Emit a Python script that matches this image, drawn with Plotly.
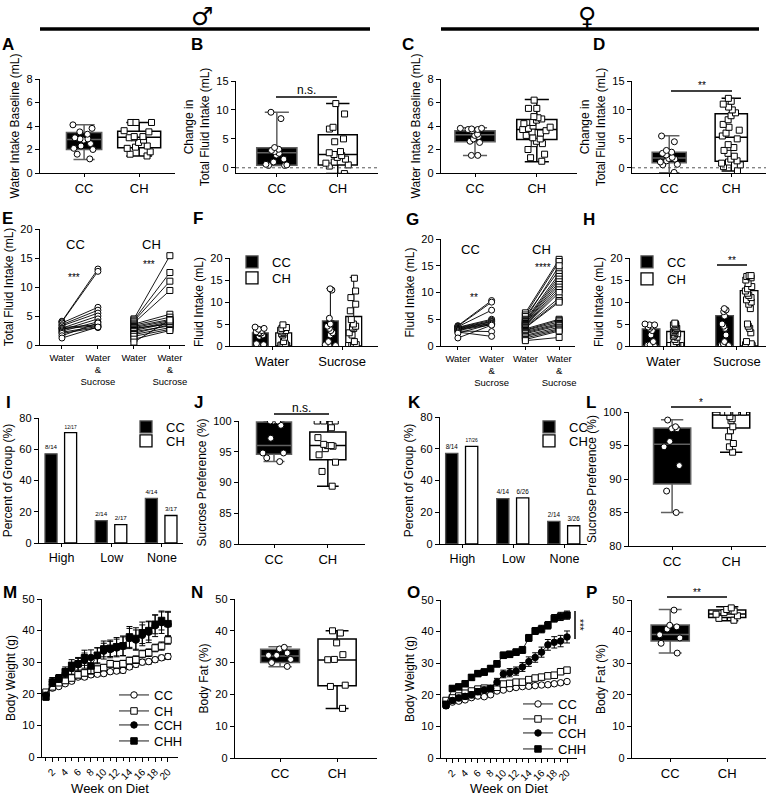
import plotly.graph_objects as go

W, H = 768, 796
FONT = "Liberation Sans, Arial, sans-serif"

# ------------------------------------------------------------------ data
groups = ["CC", "CH"]

# A: water intake baseline, male (box stats: lo, q1, median, q3, hi)
a_cc_pts = [4.1, 3.8, 3.5, 3.3, 3.0, 2.9, 2.9, 2.8, 2.5, 2.3, 2.1, 2.0, 1.6, 1.2]
a_ch_pts = [4.3, 4.3, 4.3, 3.6, 3.5, 3.1, 3.1, 3.0, 3.0, 2.8, 2.6, 2.3, 2.2, 2.1, 1.8, 1.6, 1.45]
a_cc_box = [1.15, 2.0, 2.85, 3.45, 4.1]
a_ch_box = [1.45, 2.15, 3.05, 3.55, 4.3]

# B: change in total fluid intake, male
b_cc_pts = [9.6, 8.5, 3.5, 3.2, 3.0, 2.8, 2.5, 2.2, 1.5, 1.0, 0.6, 0.5, 0.4, 0.4]
b_ch_pts = [11.1, 9.3, 7.0, 6.7, 5.0, 4.5, 2.8, 2.6, 2.3, 2.1, 1.8, 1.5, 1.0, 0.8, 0.5, 0.3, -1.0]
b_cc_box = [0.4, 0.45, 2.6, 3.45, 9.6]
b_ch_box = [-1.0, 0.5, 2.3, 5.7, 11.1]

# C: water intake baseline, female
c_cc_pts = [3.8, 3.8, 3.75, 3.7, 3.7, 3.6, 3.3, 3.2, 3.1, 2.9, 2.7, 2.6, 1.5, 1.5]
c_ch_pts = [6.2, 5.5, 5.5, 4.8, 4.7, 4.6, 4.5, 4.3, 4.2, 4.0, 3.9, 3.8, 3.7, 3.6, 3.5, 3.4,
            3.2, 3.0, 2.9, 2.7, 2.5, 2.5, 2.0, 1.6, 1.3, 1.0]
c_cc_box = [1.5, 2.65, 3.25, 3.6, 3.85]
c_ch_box = [0.95, 2.85, 3.7, 4.55, 6.25]

# D: change in total fluid intake, female
d_cc_pts = [5.5, 4.5, 3.0, 2.7, 2.5, 2.2, 1.8, 1.6, 1.5, 1.2, 1.0, 0.6, 0.5, -0.8]
d_ch_pts = [12.0, 11.5, 11.0, 10.5, 10.0, 9.5, 9.0, 8.3, 7.5, 7.0, 6.5, 6.0, 5.5, 5.0, 4.0,
            3.5, 3.0, 2.5, 2.0, 1.5, 1.2, 1.0, 0.8, 0.5, 0.2, -0.5]
d_cc_box = [-0.85, 0.85, 1.7, 2.7, 5.55]
d_ch_box = [-0.55, 1.15, 5.3, 9.35, 12.0]

# E: paired total fluid intake, male
e_cats = ["CC Water", "CC Water & Sucrose", "CH Water", "CH Water & Sucrose"]
e_ticks = ["Water", "Water<br>&<br>Sucrose", "Water", "Water<br>&<br>Sucrose"]
e_cc_water = [4.1, 4.0, 3.8, 3.5, 3.3, 3.0, 2.9, 2.8, 2.6, 2.4, 2.2, 2.0, 1.6, 1.2]
e_cc_ws = [13.1, 12.7, 6.5, 6.0, 5.5, 3.5, 5.0, 3.3, 4.5, 4.0, 3.2, 3.0, 3.8, 3.1]
e_ch_water = [4.5, 4.3, 4.1, 3.8, 3.6, 3.4, 3.2, 3.0, 2.9, 2.7, 2.5, 2.3, 2.0, 1.8, 1.5, 1.0, 0.5]
e_ch_ws = [15.4, 12.5, 11.0, 9.4, 5.3, 4.8, 4.4, 4.2, 3.6, 4.0, 3.8, 3.3, 3.5, 3.0, 2.7, 2.5, 4.3]

# F: fluid intake by bottle, male (bar = mean, whisker = max)
f_cats = ["Water CC", "Water CH", " ", "Sucrose CC", "Sucrose CH"]
f_groups = ["Water", "Sucrose"]
f_cc_mean = [3.0, 5.7]
f_cc_max = [4.3, 13.1]
f_ch_mean = [3.0, 6.7]
f_ch_max = [4.9, 15.6]
f_cc_water = [4.3, 4.0, 3.8, 3.5, 3.2, 3.0, 3.0, 2.8, 2.5, 2.2, 0.5, 0.3, 0.2, 0.1]
f_ch_water = [4.8, 4.2, 4.0, 3.6, 3.5, 3.2, 3.0, 2.8, 2.5, 2.0, 1.0, 0.5, 0.3, 0.2, 0.1, 0.1, 0.1]
f_cc_sucrose = [13.0, 12.7, 6.3, 5.0, 4.5, 4.0, 3.5, 3.0, 2.5, 1.0, 0.3, 0.2, 0.1, 0.1]
f_ch_sucrose = [15.4, 12.5, 11.0, 9.5, 8.0, 6.0, 5.0, 4.5, 4.3, 4.0, 3.0, 2.5, 1.0, 0.3, 0.2, 0.1, 0.1]

# G: paired fluid intake, female
g_cc_water = [3.8, 3.7, 3.6, 3.5, 3.4, 3.3, 3.2, 3.1, 3.0, 2.9, 2.8, 2.6, 2.4, 1.5]
g_cc_ws = [8.5, 8.2, 6.7, 5.0, 4.8, 4.6, 4.5, 4.3, 4.2, 4.0, 2.7, 1.8, 4.1, 3.9]
g_ch_water = [6.2, 5.8, 5.5, 5.0, 4.8, 4.6, 4.5, 4.3, 4.2, 4.0, 3.9, 3.8, 3.7, 3.5, 3.4, 3.2,
              3.0, 2.9, 2.7, 2.5, 2.3, 2.0, 1.8, 1.5, 1.2, 1.0]
g_ch_ws = [16.2, 15.8, 14.2, 15.0, 13.5, 13.0, 12.5, 12.0, 11.5, 11.0, 10.5, 10.0, 9.0, 8.5,
           8.2, 5.0, 4.8, 4.5, 4.2, 4.0, 3.8, 3.5, 3.2, 3.0, 2.8, 1.6]

# H: fluid intake by bottle, female
h_cc_mean = [3.9, 6.9]
h_cc_max = [5.0, 8.5]
h_ch_mean = [3.3, 12.6]
h_ch_max = [5.2, 16.2]
h_cc_water = [5.0, 4.8, 4.8, 4.5, 4.3, 4.0, 3.5, 2.5, 1.0, 0.3, 0.2, 0.1, 0.1, 0.1]
h_ch_water = [5.2, 5.0, 4.8, 4.5, 4.3, 4.0, 3.8, 3.5, 3.2, 3.0, 2.8, 2.5, 2.2, 2.0, 1.5, 1.0,
              0.5, 0.3, 0.2, 0.1, 0.1, 0.1, 0.1, 0.1, 0.1, 0.1]
h_cc_sucrose = [8.5, 8.2, 7.8, 6.8, 5.0, 4.5, 4.0, 2.5, 1.0, 0.5, 0.2, 0.1, 0.1, 0.1]
h_ch_sucrose = [16.0, 16.0, 15.8, 15.5, 15.0, 14.2, 13.5, 13.0, 12.5, 12.0, 11.5, 11.0, 10.5,
                10.0, 9.5, 8.5, 5.0, 4.5, 4.0, 3.0, 1.0, 0.5, 0.3, 0.2, 0.1, 0.1]

# I / K: percent of group by sucrose preference
pref_cats = ["High", "Low", "None"]
i_cc = [57.1, 14.3, 28.6]
i_cc_lbl = ["8/14", "2/14", "4/14"]
i_ch = [70.6, 11.8, 17.6]
i_ch_lbl = ["12/17", "2/17", "3/17"]
k_cc = [57.1, 28.6, 14.3]
k_cc_lbl = ["8/14", "4/14", "2/14"]
k_ch = [61.5, 29.0, 11.5]
k_ch_lbl = ["17/26", "6/26", "3/26"]

# J / L: sucrose preference
j_cc_pts = [100, 100, 100, 99.3, 97.2, 94.8, 94.8, 94.0, 93.4]
j_ch_pts = [100, 100, 100, 98.9, 97.3, 96.2, 96.0, 96.0, 95.9, 95.5, 94.5, 93.3, 91.8, 89.4]
j_cc_box = [93.4, 94.6, 96.0, 99.85, 100]
j_ch_box = [89.4, 93.7, 96.0, 98.2, 100]
l_cc_pts = [98.8, 97.8, 97.5, 97.5, 95.6, 94.8, 92.0, 88.2, 85.0]
l_ch_pts = [100, 100, 100, 100, 100, 100, 100, 100, 99.3, 99.0, 98.7, 97.8, 97.2, 96.3, 95.3, 94.8, 94.0]
l_cc_box = [85.0, 89.25, 95.2, 97.6, 98.85]
l_ch_box = [94.0, 97.6, 99.55, 100, 100]

# M / O: body weight over weeks on diet
weeks = [1, 2, 3, 4, 5, 6, 7, 8, 9, 10, 11, 12, 13, 14, 15, 16, 17, 18, 19, 20]
week_ticks = [2, 4, 6, 8, 10, 12, 14, 16, 18, 20]
m_cc = [20.3, 21.8, 22.3, 23.2, 24.0, 25.3, 25.3, 26.0, 26.2, 26.4, 27.0, 27.2, 27.4, 28.5, 29.3, 30.0, 30.2, 30.8, 31.4, 31.8]
m_ch = [20.5, 22.2, 23.5, 24.2, 25.0, 26.0, 26.6, 27.3, 27.8, 28.3, 29.5, 29.2, 29.5, 30.5, 30.8, 32.6, 33.0, 34.5, 35.1, 37.0]
m_cch = [19.5, 23.8, 24.8, 26.5, 28.0, 29.2, 30.5, 31.5, 32.0, 33.5, 34.0, 34.5, 35.0, 37.5, 37.0, 38.5, 39.5, 41.5, 42.5, 42.0]
m_chh = [19.0, 23.7, 24.9, 27.0, 29.0, 29.5, 31.4, 28.8, 32.2, 34.2, 34.4, 34.9, 35.2, 38.0, 37.5, 39.3, 40.0, 42.0, 43.2, 42.2]
m_cc_err = [0.6, 0.6, 0.6, 0.6, 0.6, 0.7, 0.7, 0.7, 0.7, 0.7, 0.7, 0.7, 0.8, 0.8, 0.8, 0.8, 0.8, 0.8, 0.8, 0.9]
m_ch_err = [0.8, 0.8, 0.8, 0.9, 0.9, 1.0, 1.0, 1.0, 1.0, 1.0, 1.1, 1.1, 1.1, 1.1, 1.2, 1.2, 1.2, 1.2, 1.3, 1.3]
m_cch_err = [1.0, 1.3, 1.2, 1.5, 1.8, 2.0, 2.4, 2.4, 2.5, 2.5, 2.6, 2.8, 3.0, 3.2, 3.2, 3.3, 3.3, 3.4, 3.4, 3.8]
m_chh_err = [1.0, 1.4, 1.2, 1.5, 1.8, 2.0, 2.4, 2.4, 2.4, 2.5, 2.6, 2.9, 3.1, 3.3, 3.4, 3.4, 3.0, 3.0, 3.0, 3.9]
o_cc = [17.4, 17.7, 18.0, 18.4, 19.1, 19.6, 19.4, 20.0, 21.2, 21.5, 22.0, 22.3, 22.6, 22.7, 22.9, 23.1, 23.2, 23.5, 23.8, 24.2]
o_ch = [18.2, 19.0, 19.6, 20.5, 21.2, 21.8, 22.1, 22.0, 22.4, 23.4, 23.6, 24.0, 24.0, 24.8, 25.3, 25.6, 26.0, 26.2, 27.3, 27.8]
o_cch = [16.5, 18.2, 19.0, 19.5, 20.0, 21.0, 21.5, 22.0, 24.0, 26.6, 27.0, 27.5, 28.8, 30.5, 31.8, 33.5, 35.8, 36.6, 37.0, 38.3]
o_chh = [17.0, 22.0, 22.5, 23.5, 25.5, 26.7, 27.2, 28.3, 29.8, 32.5, 32.8, 33.5, 34.2, 38.0, 40.2, 40.8, 42.0, 44.2, 44.8, 45.2]
o_cc_err = [0.4, 0.4, 0.4, 0.4, 0.4, 0.4, 0.5, 0.5, 0.5, 0.5, 0.5, 0.5, 0.5, 0.5, 0.5, 0.5, 0.6, 0.6, 0.6, 0.6]
o_ch_err = [0.5, 0.5, 0.5, 0.5, 0.5, 0.6, 0.6, 0.6, 0.6, 0.6, 0.6, 0.6, 0.7, 0.7, 0.7, 0.7, 0.7, 0.8, 0.8, 0.8]
o_cch_err = [0.8, 0.8, 0.9, 0.9, 1.0, 1.0, 1.0, 1.0, 1.2, 1.2, 1.3, 1.3, 1.4, 1.5, 1.5, 1.6, 1.7, 1.8, 1.8, 1.9]
o_chh_err = [0.8, 0.8, 0.8, 0.9, 0.9, 0.9, 1.0, 1.0, 1.0, 1.0, 1.0, 1.0, 1.1, 1.1, 1.1, 1.2, 1.2, 1.2, 1.3, 1.3]

# N / P: body fat
n_cc_pts = [34.8, 34.3, 33.0, 32.3, 32.3, 31.0, 30.0, 28.8]
n_ch_pts = [40.0, 39.3, 36.2, 32.5, 31.0, 30.9, 22.9, 22.5, 15.6]
n_cc_box = [28.7, 30.0, 32.1, 34.2, 35.0]
n_ch_box = [15.6, 22.7, 30.8, 37.4, 40.0]
p_cc_pts = [46.8, 42.0, 41.5, 40.8, 39.0, 38.0, 36.3, 33.2]
p_ch_pts = [47.5, 47.0, 46.5, 46.0, 45.5, 45.0, 44.2, 43.6]
p_cc_box = [33.2, 37.0, 39.1, 42.1, 47.0]
p_ch_box = [43.4, 44.5, 45.6, 46.8, 47.9]

# ------------------------------------------------------------------ layout frames (px)
PANELS = "ABCDEFGHIJKLMNOP"
frames = {
    "A": (40, 175, 79, 173), "B": (236, 378, 81, 173), "C": (441, 577, 79, 173), "D": (632, 766, 81, 173),
    "E": (40, 185, 229, 345), "F": (230, 378, 258, 346), "G": (441, 575, 239, 346), "H": (630, 766, 258, 346),
    "I": (39, 183, 418, 543), "J": (239, 365, 421, 544), "K": (440, 587, 417, 544), "L": (629, 766, 412, 546),
    "M": (42, 178, 599, 757), "N": (235, 377, 599, 758), "O": (441, 577, 600, 758), "P": (632, 766, 600, 758),
}
xranges = {
    "A": [-0.8, 1.65], "B": [-0.67, 1.66], "C": [-0.55, 1.65], "D": [-0.6, 1.56],
    "E": [-0.61, 3.42], "F": [-1.3, 5.04], "G": [-0.5, 3.47], "H": [-0.86, 4.69],
    "I": [-0.45, 2.42], "J": [-0.65, 1.69], "K": [-0.44, 2.44], "L": [-0.73, 1.59],
    "M": [0.38, 21.56], "N": [-0.79, 1.70], "O": [0.21, 21.57], "P": [-0.67, 1.68],
}
yranges = {
    "A": [0, 8], "B": [-0.9, 15], "C": [0, 8], "D": [-0.9, 15],
    "E": [0, 20], "F": [0, 20], "G": [0, 20], "H": [0, 20],
    "I": [0, 80], "J": [80, 100], "K": [0, 80], "L": [80, 100],
    "M": [0, 50], "N": [0, 50], "O": [0, 50], "P": [0, 50],
}
ydt = {"A": 2, "B": 5, "C": 2, "D": 5, "E": 5, "F": 5, "G": 5, "H": 5,
       "I": 20, "J": 5, "K": 20, "L": 5, "M": 10, "N": 10, "O": 10, "P": 10}
ytitles = {
    "A": "Water Intake Baseline (mL)", "B": "Change in<br>Total Fluid Intake (mL)",
    "C": "Water Intake Baseline (mL)", "D": "Change in<br>Total Fluid Intake (mL)",
    "E": "Total Fluid Intake (mL)", "F": "Fluid Intake (mL)", "G": "Fluid Intake (mL)",
    "H": "Fluid Intake (mL)", "I": "Percent of Group (%)", "J": "Sucrose Preference (%)",
    "K": "Percent of Group (%)", "L": "Sucrose Preference (%)", "M": "Body Weight (g)",
    "N": "Body Fat (%)", "O": "Body Weight (g)", "P": "Body Fat (%)",
}


def sfx(p):
    i = PANELS.index(p) + 1
    return "" if i == 1 else str(i)


def refs(p):
    s = sfx(p)
    return "x" + s, "y" + s


axis_common = dict(showline=True, linecolor="black", linewidth=1.4, showgrid=False, zeroline=False,
                   ticks="outside", ticklen=4, tickwidth=1.2, tickcolor="black", automargin=False,
                   tickfont=dict(family=FONT, size=11, color="black"), fixedrange=True)

lay = {}
for p in PANELS:
    s = sfx(p)
    xl, xr_, yt, yb = frames[p]
    lay["xaxis" + s] = dict(axis_common, domain=[xl / W, xr_ / W], anchor="y" + s, range=xranges[p])
    lay["yaxis" + s] = dict(axis_common, domain=[1 - yb / H, 1 - yt / H], anchor="x" + s,
                            range=yranges[p], tick0=0, dtick=ydt[p],
                            title=dict(text=ytitles[p], font=dict(family=FONT, size=12, color="black"),
                                       standoff=4))
# categorical x axes
for p in "ABCDJLNP":
    lay["xaxis" + sfx(p)].update(type="category", categoryorder="array", categoryarray=groups,
                                 ticklen=3, tickfont=dict(family=FONT, size=13, color="black"))
for p in "EG":
    lay["xaxis" + sfx(p)].update(type="category", categoryorder="array", categoryarray=e_cats,
                                 tickmode="array", tickvals=e_cats, ticktext=e_ticks, ticklen=3,
                                 tickfont=dict(family=FONT, size=9.5, color="black"))
for p in "FH":
    lay["xaxis" + sfx(p)].update(type="category", categoryorder="array", categoryarray=f_cats,
                                 tickmode="array", tickvals=[0.5, 3.5], ticktext=f_groups, ticklen=3,
                                 tickfont=dict(family=FONT, size=13, color="black"))
for p in "IK":
    lay["xaxis" + sfx(p)].update(type="category", categoryorder="array", categoryarray=pref_cats,
                                 ticklen=3, tickfont=dict(family=FONT, size=12.5, color="black"))
for p in "MO":
    lay["xaxis" + sfx(p)].update(tickmode="array", tickvals=week_ticks, tickangle=-45, ticklen=4,
                                 tickfont=dict(family=FONT, size=10, color="black"),
                                 minor=dict(ticks="outside", tickvals=weeks, ticklen=3, tickcolor="black"),
                                 title=dict(text="Week on Diet", font=dict(family=FONT, size=13, color="black"),
                                            standoff=2))

fig = go.Figure()


def add_box(p, cat, stats, pts, dark, width):
    xa, ya = refs(p)
    lo, q1, med, q3, hi = stats
    fig.add_trace(go.Box(x=[cat], lowerfence=[lo], q1=[q1], median=[med], q3=[q3], upperfence=[hi],
                         xaxis=xa, yaxis=ya, width=width, whiskerwidth=0.6,
                         fillcolor="black" if dark else "white",
                         line=dict(color="#606060" if dark else "black", width=1.5),
                         boxpoints=False, showlegend=False, hoverinfo="skip"))
    add_points(p, [cat] * len(pts), pts, dark, width)


def add_points(p, xs, ys, dark, width):
    xa, ya = refs(p)
    fig.add_trace(go.Box(x=xs, y=ys, xaxis=xa, yaxis=ya, width=width,
                         boxpoints="all", jitter=0.75, pointpos=0,
                         fillcolor="rgba(0,0,0,0)", line=dict(color="rgba(0,0,0,0)", width=0),
                         marker=dict(symbol="circle" if dark else "square", size=6, color="white",
                                     line=dict(color="black", width=1)),
                         showlegend=False, hoverinfo="skip"))


box_sets = {
    "A": (a_cc_box, a_cc_pts, a_ch_box, a_ch_pts, 0.64, 0.78),
    "B": (b_cc_box, b_cc_pts, b_ch_box, b_ch_pts, 0.66, 0.64),
    "C": (c_cc_box, c_cc_pts, c_ch_box, c_ch_pts, 0.65, 0.65),
    "D": (d_cc_box, d_cc_pts, d_ch_box, d_ch_pts, 0.55, 0.52),
    "J": (j_cc_box, j_cc_pts, j_ch_box, j_ch_pts, 0.65, 0.67),
    "L": (l_cc_box, l_cc_pts, l_ch_box, l_ch_pts, 0.63, 0.63),
    "N": (n_cc_box, n_cc_pts, n_ch_box, n_ch_pts, 0.68, 0.67),
    "P": (p_cc_box, p_cc_pts, p_ch_box, p_ch_pts, 0.67, 0.65),
}
for p, (cb, cp, hb, hp, wc, wh) in box_sets.items():
    add_box(p, "CC", cb, cp, True, wc)
    add_box(p, "CH", hb, hp, False, wh)


# paired line plots E, G
def add_pairs(p, water, ws, cat_w, cat_s, symbol):
    xa, ya = refs(p)
    xs, ys = [], []
    for w, s in zip(water, ws):
        xs += [cat_w, cat_s, None]
        ys += [w, s, None]
    fig.add_trace(go.Scatter(x=xs, y=ys, xaxis=xa, yaxis=ya, mode="lines+markers",
                             line=dict(color="black", width=0.9),
                             marker=dict(symbol=symbol, size=6, color="white", line=dict(color="black", width=1)),
                             showlegend=False, hoverinfo="skip", cliponaxis=False))


add_pairs("E", e_cc_water, e_cc_ws, e_cats[0], e_cats[1], "circle")
add_pairs("E", e_ch_water, e_ch_ws, e_cats[2], e_cats[3], "square")
add_pairs("G", g_cc_water, g_cc_ws, e_cats[0], e_cats[1], "circle")
add_pairs("G", g_ch_water, g_ch_ws, e_cats[2], e_cats[3], "square")


# bar + points F, H
def add_bar_points(p, cc_mean, cc_max, ch_mean, ch_max, cc_w, ch_w, cc_s, ch_s, width, leg_cc, leg_ch):
    xa, ya = refs(p)
    for grp, mean, mx, dark, leg in (("CC", cc_mean, cc_max, True, leg_cc), ("CH", ch_mean, ch_max, False, leg_ch)):
        fig.add_trace(go.Bar(x=[g + " " + grp for g in f_groups], y=mean, xaxis=xa, yaxis=ya, width=width,
                             name=grp, legend=leg,
                             marker=dict(color="black" if dark else "white",
                                         line=dict(color="#505050" if dark else "black", width=1.3)),
                             error_y=dict(type="data", symmetric=False,
                                          array=[m - v for m, v in zip(mx, mean)], arrayminus=[0] * len(mean),
                                          color="black", thickness=1, width=4),
                             hoverinfo="skip"))
    add_points(p, ["Water CC"] * len(cc_w) + ["Sucrose CC"] * len(cc_s), cc_w + cc_s, True, width)
    add_points(p, ["Water CH"] * len(ch_w) + ["Sucrose CH"] * len(ch_s), ch_w + ch_s, False, width)


add_bar_points("F", f_cc_mean, f_cc_max, f_ch_mean, f_ch_max, f_cc_water, f_ch_water,
               f_cc_sucrose, f_ch_sucrose, 0.68, "legend", "legend2")
add_bar_points("H", h_cc_mean, h_cc_max, h_ch_mean, h_ch_max, h_cc_water, h_ch_water,
               h_cc_sucrose, h_ch_sucrose, 0.72, "legend3", "legend4")


# grouped percent bars I, K
def add_pct(p, cc, cc_lbl, ch, ch_lbl, leg_cc, leg_ch):
    xa, ya = refs(p)
    for grp, vals, lbl, dark, off, leg in (("CC", cc, cc_lbl, True, -0.33, leg_cc),
                                           ("CH", ch, ch_lbl, False, 0.06, leg_ch)):
        fig.add_trace(go.Bar(x=pref_cats, y=vals, xaxis=xa, yaxis=ya, width=0.24, offset=off,
                             name=grp, legend=leg, text=lbl, textposition="outside", cliponaxis=False,
                             textfont=dict(family=FONT, size=9.5, color="black"),
                             marker=dict(color="black" if dark else "white",
                                         line=dict(color="#505050" if dark else "black", width=1.3)),
                             hoverinfo="skip"))


add_pct("I", i_cc, i_cc_lbl, i_ch, i_ch_lbl, "legend5", "legend6")
add_pct("K", k_cc, k_cc_lbl, k_ch, k_ch_lbl, "legend7", "legend8")


# body weight curves M, O
def add_weights(p, series, legs):
    xa, ya = refs(p)
    styles = [("CC", "circle", "white"), ("CH", "square", "white"),
              ("CCH", "circle", "black"), ("CHH", "square", "black")]
    for (name, sym, col), (vals, err), leg in zip(styles, series, legs):
        fig.add_trace(go.Scatter(x=weeks, y=vals, xaxis=xa, yaxis=ya, mode="lines+markers", name=name,
                                 legend=leg, line=dict(color="black", width=0.9),
                                 marker=dict(symbol=sym, size=6.5, color=col, line=dict(color="black", width=1)),
                                 error_y=dict(type="data", array=err, color="black", thickness=1, width=3),
                                 hoverinfo="skip"))


add_weights("M", [(m_cc, m_cc_err), (m_ch, m_ch_err), (m_cch, m_cch_err), (m_chh, m_chh_err)],
            ["legend9", "legend10", "legend11", "legend12"])
add_weights("O", [(o_cc, o_cc_err), (o_ch, o_ch_err), (o_cch, o_cch_err), (o_chh, o_chh_err)],
            ["legend13", "legend14", "legend15", "legend16"])

# ------------------------------------------------------------------ legends (one per entry)
leg_pos = {
    "legend": (232, 262), "legend2": (232, 278),
    "legend3": (627, 262), "legend4": (627, 279),
    "legend5": (126, 427), "legend6": (126, 441),
    "legend7": (529, 427), "legend8": (529, 441),
    "legend9": (114, 695), "legend10": (114, 711), "legend11": (114, 725), "legend12": (114, 741),
    "legend13": (518, 704), "legend14": (518, 719), "legend15": (518, 733), "legend16": (518, 749),
}
for k, (lx, ly) in leg_pos.items():
    lay[k] = dict(x=lx / W, y=1 - ly / H, xanchor="left", yanchor="middle", bgcolor="rgba(0,0,0,0)",
                  borderwidth=0, font=dict(family=FONT, size=13, color="black"), itemclick=False)

# ------------------------------------------------------------------ annotations & shapes
ann = []
shapes = []


def note(text, x, y, size, family=FONT, yanchor="middle", **kw):
    ann.append(dict(x=x / W, y=1 - y / H, xref="paper", yref="paper", text=text, showarrow=False,
                    xanchor="center", yanchor=yanchor, font=dict(family=family, size=size, color="black"), **kw))


letter_pos = {"A": (8, 44), "B": (197, 44), "C": (408, 44), "D": (599, 44),
              "E": (7, 218), "F": (198, 218), "G": (412, 220), "H": (589, 220),
              "I": (8, 402), "J": (198, 402), "K": (414, 402), "L": (591, 402),
              "M": (10, 592), "N": (197, 592), "O": (413, 592), "P": (591, 592)}
for p, (lx, ly) in letter_pos.items():
    note("<b>" + p + "</b>", lx, ly, 17)

# sex headers
note("\u2642", 202, 0, 25, family="DejaVu Sans", yanchor="top")
note("\u2640", 587, 0, 25, family="DejaVu Sans", yanchor="top")
shapes.append(dict(type="line", xref="paper", yref="paper", x0=40 / W, x1=370 / W, y0=1 - 29 / H, y1=1 - 29 / H,
                   line=dict(color="black", width=3.5)))
shapes.append(dict(type="line", xref="paper", yref="paper", x0=441 / W, x1=759 / W, y0=1 - 29 / H, y1=1 - 29 / H,
                   line=dict(color="black", width=3.5)))

# dotted zero lines B, D
for p in "BD":
    xa, ya = refs(p)
    shapes.append(dict(type="line", xref=xa + " domain", yref=ya, x0=0, x1=1, y0=0, y1=0,
                       line=dict(color="#555555", width=1, dash="dot")))

# significance bars (px positions)
sig = [  # text, x0, x1, y_bar, y_text
    ("n.s.", 276, 337, 97, 90), ("**", 671, 732, 91, 86), ("**", 717, 747, 265, 261),
    ("n.s.", 274, 329, 414, 408), ("*", 671, 731, 407, 402), ("**", 667, 727, 597, 592),
]
for t, x0, x1, yb_, yt_ in sig:
    shapes.append(dict(type="line", xref="paper", yref="paper", x0=x0 / W, x1=x1 / W,
                       y0=1 - yb_ / H, y1=1 - yb_ / H, line=dict(color="black", width=1.5)))
    note(t, (x0 + x1) / 2, yt_, 12 if t.startswith("n") else 10)
# O vertical bracket
shapes.append(dict(type="line", xref="paper", yref="paper", x0=575 / W, x1=575 / W, y0=1 - 611 / H,
                   y1=1 - 639 / H, line=dict(color="black", width=1.5)))
note("***", 580, 625, 10, textangle=90)

# texts in E and G
eg_text = [("CC", 75, 245, 13), ("CH", 151, 245, 13), ("***", 74, 277, 10), ("***", 149, 264, 10),
           ("CC", 470, 250, 13), ("CH", 541, 249, 13), ("**", 474, 297, 10), ("****", 543, 267, 10)]
for t, x, y, sz in eg_text:
    note(t, x, y, sz)

fig.update_layout(**lay)
fig.update_layout(template="none", width=W, height=H, margin=dict(l=0, r=0, t=0, b=0, autoexpand=False),
                  plot_bgcolor="white", paper_bgcolor="white", annotations=ann, shapes=shapes,
                  boxmode="overlay", barmode="overlay", font=dict(family=FONT, color="black"),
                  showlegend=True)

fig.write_html("out.html", config={"displayModeBar": False},
               post_script="document.body.style.margin='0';document.body.style.padding='0';"
                           "document.documentElement.style.margin='0';")
